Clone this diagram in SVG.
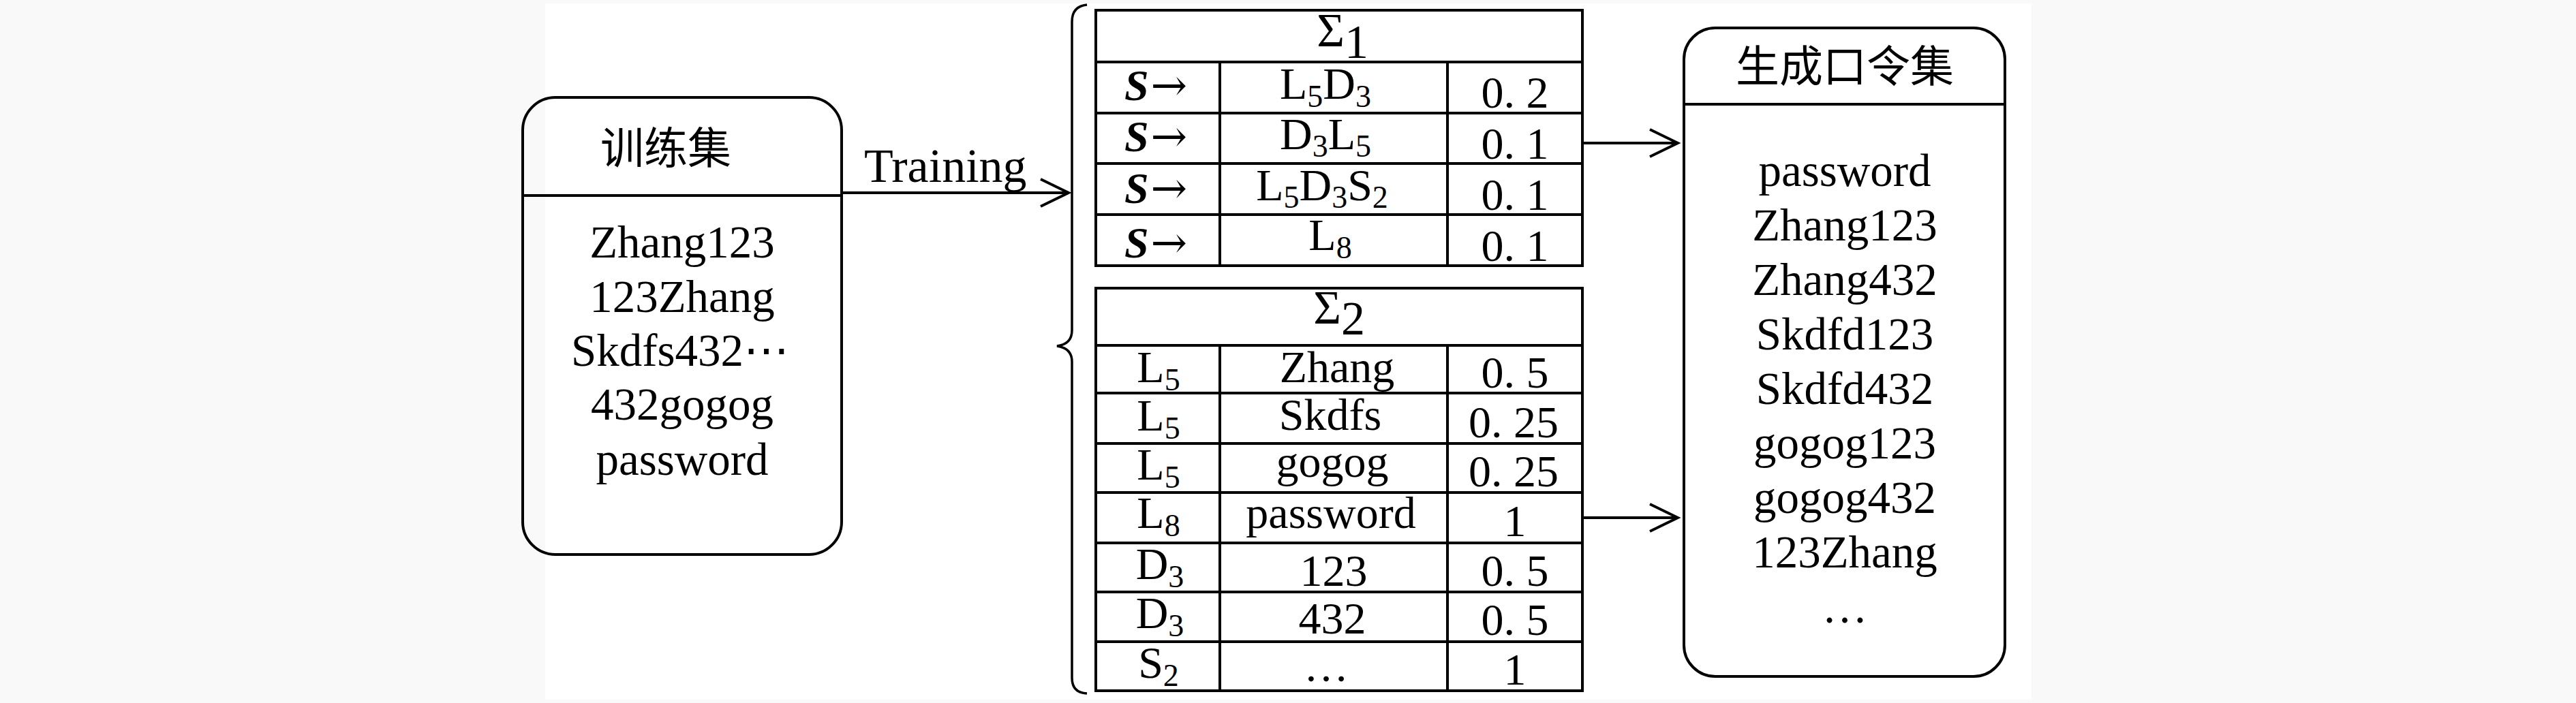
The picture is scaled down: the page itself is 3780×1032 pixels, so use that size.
<svg xmlns="http://www.w3.org/2000/svg" width="3780" height="1032" viewBox="0 0 3780 1032">
<style>
.ln{fill:none;stroke:#000;stroke-width:4}
.tb{fill:none;stroke:#000;stroke-width:4}
.t{font-family:"Liberation Serif","DejaVu Serif",serif;fill:#000}
.c{text-anchor:middle}
.cjk{font-family:"Liberation Serif","Noto Sans CJK SC",sans-serif;font-size:64px;fill:#000;text-anchor:middle}
.box{font-size:67px}
.cell{font-size:66px}
.sig{font-size:70px}
.s{font-style:italic;font-weight:bold;font-size:64px}
.arr{font-family:"DejaVu Serif","Liberation Serif",serif;font-style:normal;font-weight:normal;font-size:64px}
</style>
<defs>
<marker id="chev" markerUnits="userSpaceOnUse" markerWidth="50" markerHeight="50" refX="43" refY="22" orient="auto" overflow="visible">
<path d="M2,2 L43,22 L2,42" fill="none" stroke="#000" stroke-width="4"/>
</marker>
</defs>
<rect x="0" y="0" width="3780" height="1032" fill="#f9f9f9"/>
<rect x="800" y="5" width="2181" height="1022" fill="#fff"/>

<g id="training-set">
<rect class="ln" x="767" y="143" width="468" height="671" rx="48" ry="48"/>
<line class="ln" x1="767" y1="287" x2="1235" y2="287"/>
<text class="cjk" x="977" y="240">训练集</text>
<text class="t c box" x="1001" y="378">Zhang123</text>
<text class="t c box" x="1001" y="458">123Zhang</text>
<text class="t c box" x="998" y="537">Skdfs432⋯</text>
<text class="t c box" x="1001" y="616">432gogog</text>
<text class="t c box" x="1001" y="697">password</text>
</g>

<g id="brace">
<path d="M1595,7 Q1573,9 1573,32 L1573,485 Q1573,505 1551,508 Q1573,511 1573,531 L1573,995 Q1573,1017 1595,1018" fill="none" stroke="#000" stroke-width="3.5"/>
</g>

<g id="sigma1">
<rect class="tb" x="1608" y="15" width="714" height="375"/>
<line class="tb" x1="1608" y1="91" x2="2322" y2="91"/>
<line class="tb" x1="1608" y1="166" x2="2322" y2="166"/>
<line class="tb" x1="1608" y1="240" x2="2322" y2="240"/>
<line class="tb" x1="1608" y1="315" x2="2322" y2="315"/>
<line class="tb" x1="1790" y1="91" x2="1790" y2="390"/>
<line class="tb" x1="2124" y1="91" x2="2124" y2="390"/>
<text class="t c sig" x="1970" y="68">Σ<tspan dy="17">1</tspan></text>
<text class="t s" x="1650" y="147">S<tspan class="arr" dx="3">→</tspan></text>
<text class="t s" x="1650" y="222">S<tspan class="arr" dx="3">→</tspan></text>
<text class="t s" x="1650" y="298">S<tspan class="arr" dx="3">→</tspan></text>
<text class="t s" x="1650" y="378">S<tspan class="arr" dx="3">→</tspan></text>
<text class="t c cell" x="1945" y="145">L<tspan font-size="46" dy="12">5</tspan><tspan dy="-12">D</tspan><tspan font-size="46" dy="12">3</tspan></text>
<text class="t c cell" x="1945" y="219">D<tspan font-size="46" dy="11">3</tspan><tspan dy="-11">L</tspan><tspan font-size="46" dy="11">5</tspan></text>
<text class="t c cell" x="1940" y="294">L<tspan font-size="46" dy="11">5</tspan><tspan dy="-11">D</tspan><tspan font-size="46" dy="11">3</tspan><tspan dy="-11">S</tspan><tspan font-size="46" dy="11">2</tspan></text>
<text class="t c cell" x="1952" y="367">L<tspan font-size="46" dy="12">8</tspan></text>
<text class="t c cell" x="2223" y="158">0. 2</text>
<text class="t c cell" x="2223" y="233">0. 1</text>
<text class="t c cell" x="2223" y="308">0. 1</text>
<text class="t c cell" x="2223" y="383">0. 1</text>
</g>

<g id="sigma2">
<rect class="tb" x="1608" y="423" width="714" height="591"/>
<line class="tb" x1="1608" y1="507" x2="2322" y2="507"/>
<line class="tb" x1="1608" y1="577" x2="2322" y2="577"/>
<line class="tb" x1="1608" y1="651" x2="2322" y2="651"/>
<line class="tb" x1="1608" y1="723" x2="2322" y2="723"/>
<line class="tb" x1="1608" y1="797" x2="2322" y2="797"/>
<line class="tb" x1="1608" y1="869" x2="2322" y2="869"/>
<line class="tb" x1="1608" y1="942" x2="2322" y2="942"/>
<line class="tb" x1="1790" y1="507" x2="1790" y2="1014"/>
<line class="tb" x1="2124" y1="507" x2="2124" y2="1014"/>
<text class="t c sig" x="1965" y="475">Σ<tspan dy="16">2</tspan></text>
<text class="t c cell" x="1700" y="561">L<tspan font-size="46" dy="12">5</tspan></text>
<text class="t c cell" x="1700" y="632">L<tspan font-size="46" dy="12">5</tspan></text>
<text class="t c cell" x="1700" y="704">L<tspan font-size="46" dy="12">5</tspan></text>
<text class="t c cell" x="1700" y="775">L<tspan font-size="46" dy="12">8</tspan></text>
<text class="t c cell" x="1702" y="850">D<tspan font-size="46" dy="12">3</tspan></text>
<text class="t c cell" x="1702" y="922">D<tspan font-size="46" dy="12">3</tspan></text>
<text class="t c cell" x="1700" y="995">S<tspan font-size="46" dy="12">2</tspan></text>
<text class="t c cell" x="1962" y="561">Zhang</text>
<text class="t c cell" x="1952" y="631">Skdfs</text>
<text class="t c cell" x="1955" y="700">gogog</text>
<text class="t c cell" x="1953" y="775">password</text>
<text class="t c cell" x="1957" y="860">123</text>
<text class="t c cell" x="1955" y="930">432</text>
<text class="t c cell" x="1946" y="1000">…</text>
<text class="t c cell" x="2223" y="569">0. 5</text>
<text class="t c cell" x="2221" y="642">0. 25</text>
<text class="t c cell" x="2221" y="714">0. 25</text>
<text class="t c cell" x="2223" y="787">1</text>
<text class="t c cell" x="2223" y="860">0. 5</text>
<text class="t c cell" x="2223" y="932">0. 5</text>
<text class="t c cell" x="2223" y="1005">1</text>
</g>

<g id="generated-set">
<rect class="ln" x="2471" y="41" width="471" height="952" rx="46" ry="46"/>
<line class="ln" x1="2471" y1="153" x2="2942" y2="153"/>
<text class="cjk" x="2707" y="120">生成口令集</text>
<text class="t c box" x="2707" y="273">password</text>
<text class="t c box" x="2707" y="353">Zhang123</text>
<text class="t c box" x="2707" y="433">Zhang432</text>
<text class="t c box" x="2707" y="513">Skdfd123</text>
<text class="t c box" x="2707" y="593">Skdfd432</text>
<text class="t c box" x="2707" y="673">gogog123</text>
<text class="t c box" x="2707" y="753">gogog432</text>
<text class="t c box" x="2707" y="833">123Zhang</text>
<text class="t c box" x="2707" y="914">…</text>
</g>

<g id="connectors">
<line class="ln" x1="1235" y1="283" x2="1568" y2="283" marker-end="url(#chev)"/>
<text class="t" x="1268" y="267" font-size="70">Training</text>
<line class="ln" x1="2322" y1="210" x2="2462" y2="210" marker-end="url(#chev)"/>
<line class="ln" x1="2322" y1="760" x2="2462" y2="760" marker-end="url(#chev)"/>
</g>
</svg>
